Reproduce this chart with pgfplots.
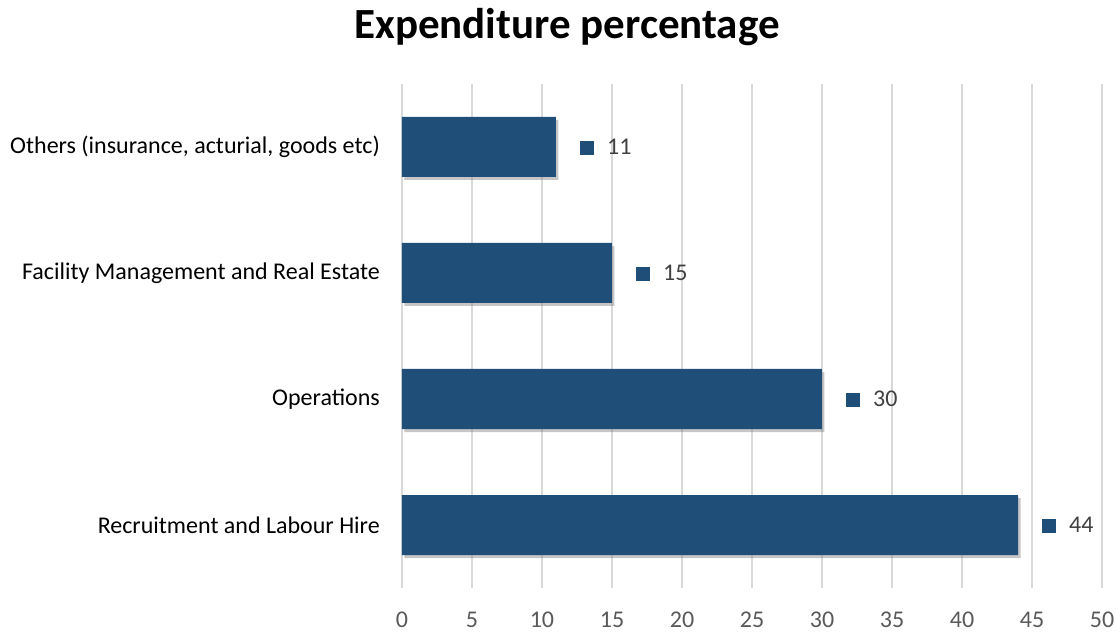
\documentclass[border=0pt]{standalone}
\usepackage{pgfplots}
\pgfplotsset{compat=1.18}
\usepackage{fontspec}
\setmainfont{Carlito}
\usetikzlibrary{shadows}
\definecolor{barblue}{HTML}{1F4E79}
\definecolor{gridgray}{HTML}{D9D9D9}
\definecolor{ticktext}{HTML}{595959}
\definecolor{valtext}{HTML}{404040}
\begin{document}
\begin{tikzpicture}
\useasboundingbox (-402pt,-44pt) rectangle (714pt,588pt);
\begin{axis}[
    at={(0pt,0pt)}, anchor=south west,
    scale only axis,
    width=700pt, height=504pt,
    xbar,
    bar width=60pt,
    xmin=0, xmax=50,
    xtick={0,5,...,50},
    ymin=-0.5, ymax=3.5,
    ytick={0,1,2,3},
    yticklabels={
        {Recruitment and Labour Hire},
        {Operations},
        {Facility Management and Real Estate},
        {Others (insurance, acturial, goods etc)}
    },
    /pgf/number format/assume math mode=true,
    axis line style={draw=none},
    major tick length=0pt,
    xmajorgrids,
    major grid style={gridgray, line width=1.5pt},
    xticklabel style={font=\fontsize{24}{28}\selectfont, text=ticktext, anchor=north, inner sep=0pt, yshift=-24pt},
    yticklabel style={font=\fontsize{24}{28}\selectfont, text=black, anchor=east, inner sep=0pt, xshift=-22pt},
    nodes near coords={\textcolor{barblue}{\rule{14pt}{14pt}}\hspace{13pt}\pgfmathprintnumber{\pgfplotspointmeta}},
    nodes near coords align={horizontal},
    every node near coord/.append style={anchor=west, inner sep=0pt, xshift=24pt, text=valtext, font=\fontsize{24}{28}\selectfont},
]
\addplot[fill=barblue, draw=none, drop shadow={shadow xshift=2.5pt, shadow yshift=-3pt, opacity=0.45}]
    coordinates {(44,0) (30,1) (15,2) (11,3)};
\end{axis}
\node[font=\fontsize{43}{50}\bfseries\selectfont] at (165pt,561pt) {Expenditure percentage};
\end{tikzpicture}
\end{document}
